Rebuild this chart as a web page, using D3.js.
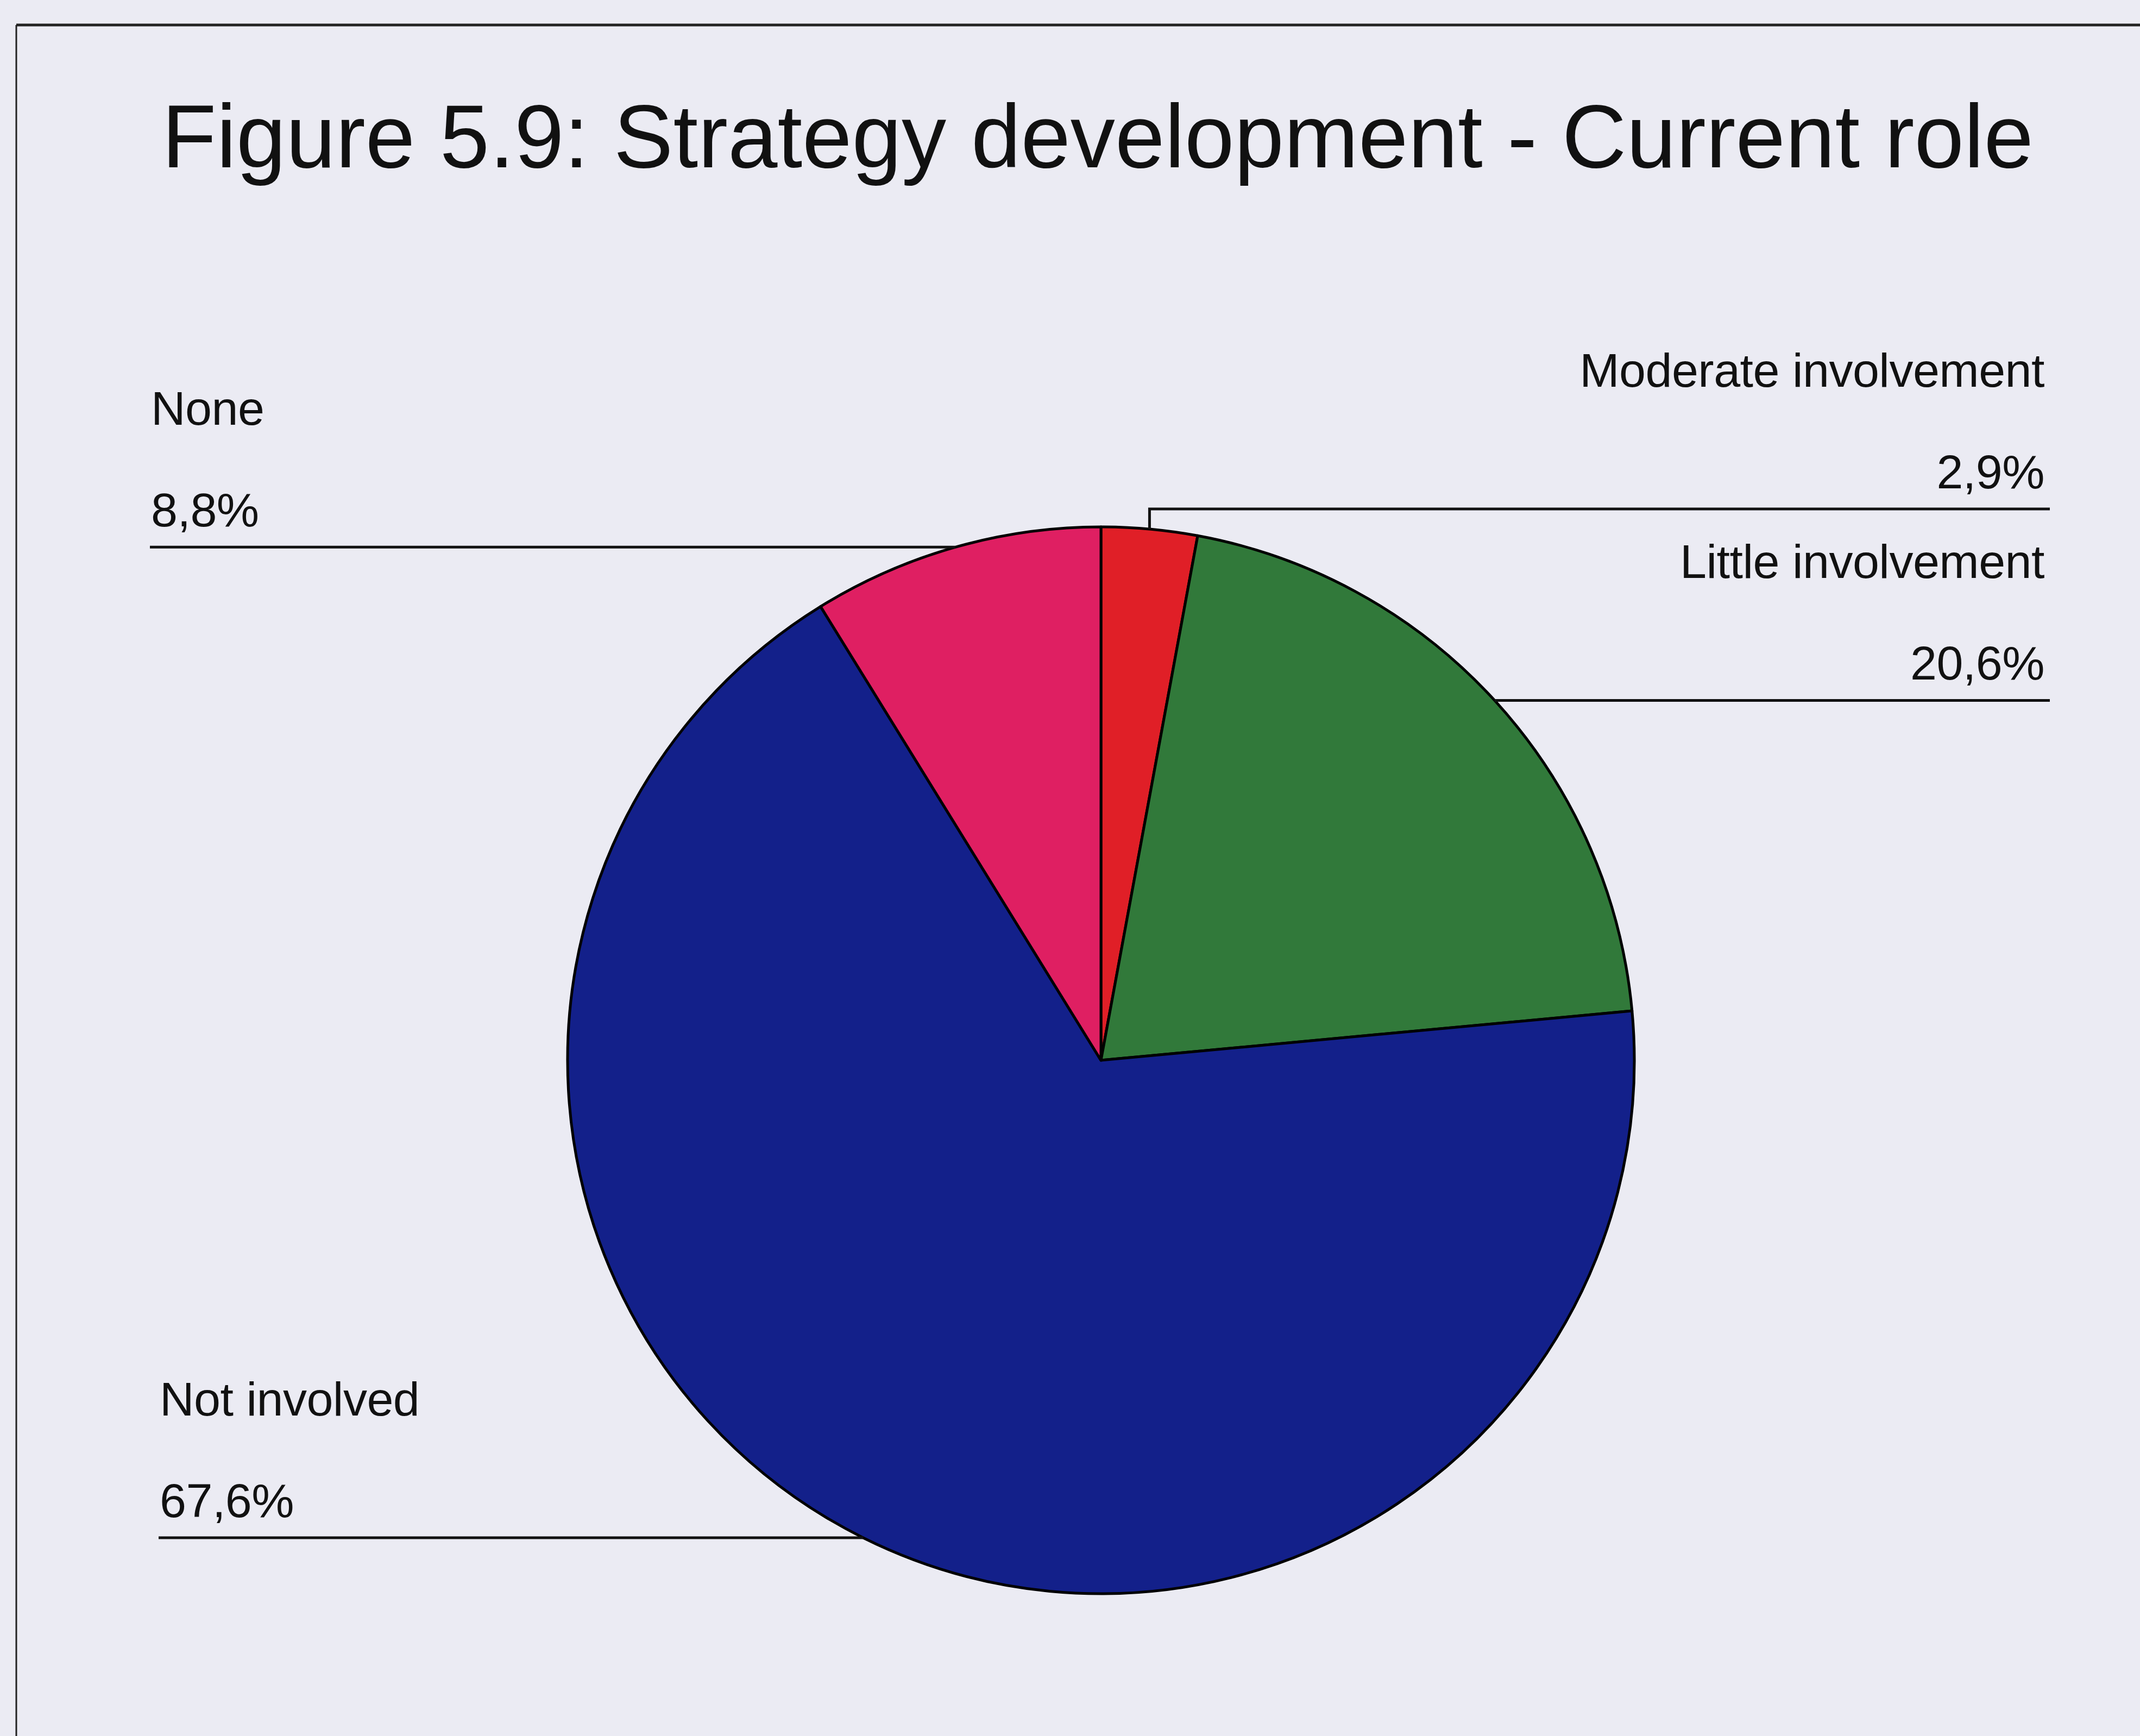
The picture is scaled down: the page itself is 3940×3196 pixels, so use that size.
<!DOCTYPE html>
<html>
<head>
<meta charset="utf-8">
<script src="https://cdn.jsdelivr.net/npm/d3@7"></script>
<style>
  html, body { margin: 0; padding: 0; background: #ebebf3; }
  svg { display: block; }
  text { font-family: "Liberation Sans", Arial, sans-serif; fill: #111; }
</style>
</head>
<body>
<svg id="chart" width="3940" height="3196"></svg>
<script>
// Survey responses: current role in strategy development (share of respondents, %)
const categories = ["Moderate involvement", "Little involvement", "Not involved", "None"];
const values = [2.9, 20.6, 67.6, 8.8];
const valueLabels = ["2,9%", "20,6%", "67,6%", "8,8%"];
const colors = ["#e01f27", "#31793a", "#13208a", "#df1f62"];
const title = "Figure 5.9: Strategy development - Current role";

const W = 3940, H = 3196;
const cx = 2027, cy = 1952, r = 982;

const svg = d3.select("#chart");

svg.append("rect").attr("width", W).attr("height", H).attr("fill", "#ebebf3");

// frame edges
svg.append("line").attr("x1", 30).attr("y1", 46).attr("x2", W).attr("y2", 46)
  .attr("stroke", "#222").attr("stroke-width", 5);
svg.append("line").attr("x1", 30).attr("y1", 46).attr("x2", 30).attr("y2", H)
  .attr("stroke", "#222").attr("stroke-width", 3);

// title
svg.append("text")
  .attr("x", 298).attr("y", 308)
  .attr("font-size", 166)
  .attr("textLength", 3446)
  .attr("lengthAdjust", "spacingAndGlyphs")
  .text(title);

const data = categories.map((c, i) => ({ name: c, value: values[i], label: valueLabels[i], color: colors[i] }));

const pie = d3.pie().value(d => d.value).sort(null);
const arcs = pie(data);
const arc = d3.arc().innerRadius(0).outerRadius(r);
const edge = d3.arc().innerRadius(r).outerRadius(r);

const g = svg.append("g").attr("transform", `translate(${cx},${cy})`);
g.selectAll("path").data(arcs).join("path")
  .attr("d", arc)
  .attr("fill", d => d.data.color)
  .attr("stroke", "#000")
  .attr("stroke-width", 5)
  .attr("stroke-linejoin", "round");

// label layout: side, outer end of the leader, optional elbow row
const layout = {
  "Moderate involvement": { side: "right", endX: 3774, lineY: 937 },
  "Little involvement": { side: "right", endX: 3774 },
  "Not involved": { side: "left", endX: 292 },
  "None": { side: "left", endX: 276 }
};

const labels = svg.append("g");
arcs.forEach(a => {
  const [mx, my] = edge.centroid(a);
  const px = cx + mx, py = cy + my;
  const cfg = layout[a.data.name];
  const lineY = cfg.lineY != null ? cfg.lineY : py;
  const pts = cfg.lineY != null
    ? [[px, py], [px, lineY], [cfg.endX, lineY]]
    : [[px, py], [cfg.endX, lineY]];
  labels.append("path")
    .attr("d", d3.line()(pts))
    .attr("fill", "none")
    .attr("stroke", "#111")
    .attr("stroke-width", 5);
  const anchor = cfg.side === "right" ? "end" : "start";
  const tx = cfg.side === "right" ? cfg.endX - 10 : cfg.endX + 2;
  labels.append("text")
    .attr("x", tx).attr("y", lineY - 225)
    .attr("text-anchor", anchor)
    .attr("font-size", 88)
    .attr("letter-spacing", -0.5)
    .text(a.data.name);
  labels.append("text")
    .attr("x", tx).attr("y", lineY - 38)
    .attr("text-anchor", anchor)
    .attr("font-size", 88)
    .attr("letter-spacing", -0.5)
    .text(a.data.label);
});
</script>
</body>
</html>
